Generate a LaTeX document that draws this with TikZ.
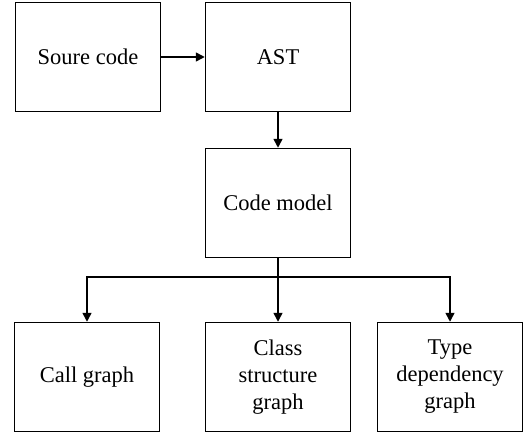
\documentclass[tikz,border=0pt]{standalone}
\usepackage{fontspec}
\setmainfont{Liberation Serif}
\usetikzlibrary{arrows.meta}
\begin{document}
\begin{tikzpicture}[   % opciones por defecto
  x=1pt, y=1pt,
  line width=1.5pt,  % grosor de linea
  -{Triangle[width=9pt,length=9pt]}, % flecha al final
  draw=black!100,    % linea negro 100%
  font=\fontsize{22.5}{27}\selectfont
]
  \tikzstyle{caja}=[draw, rectangle, minimum width=145, minimum height=109,
    align=center, inner sep=2pt];
  %
  % area del dibujo
  \useasboundingbox (0,0) rectangle (526,-436);
  %
  % fila superior
  \node [caja] (src) at (88,-57) {Soure code};
  \node [caja] (ast) at (278,-57) {AST};
  %
  % modelo de codigo
  \node [caja] (model) at (278,-203) {Code model};
  %
  % grafos de salida
  \node [caja] (call)   at (87,-377)  {Call graph};
  \node [caja] (struct) at (278,-377) {Class\\structure\\graph};
  \node [caja] (type)   at (450,-377) {Type\\dependency\\graph};
  %
  % conexiones
  \draw (src) -- (ast);
  \draw (ast) -- (model);
  \coordinate (fork) at (278,-277);
  \draw (model) -- (struct);
  \draw (fork) -| (call);
  \draw (fork) -| (type);
\end{tikzpicture}
\end{document}
